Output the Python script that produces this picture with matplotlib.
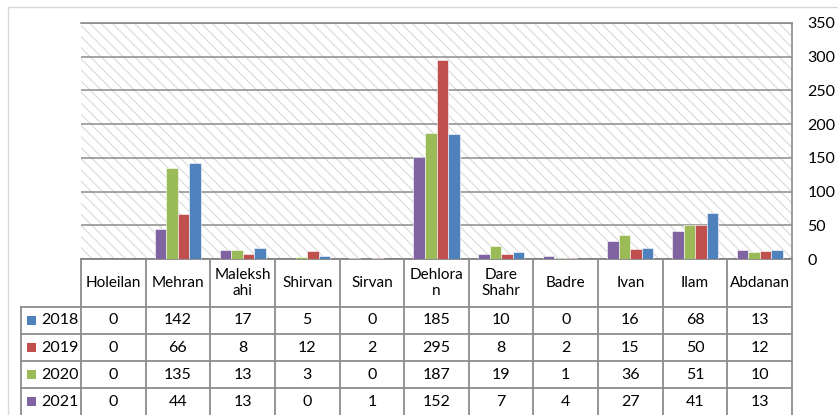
import matplotlib
matplotlib.use("Agg")
import matplotlib.pyplot as plt
from matplotlib.lines import Line2D
from matplotlib.patches import Rectangle
import numpy as np

plt.rcParams['font.family'] = ['Lato', 'DejaVu Sans']
plt.rcParams['hatch.linewidth'] = 0.8

districts = ["Holeilan", "Mehran", "Maleksh\nahi", "Shirvan", "Sirvan", "Dehlora\nn",
             "Dare\nShahr", "Badre", "Ivan", "Ilam", "Abdanan"]
years = ["2018", "2019", "2020", "2021"]
cases_2018 = [0, 142, 17, 5, 0, 185, 10, 0, 16, 68, 13]
cases_2019 = [0, 66, 8, 12, 2, 295, 8, 2, 15, 50, 12]
cases_2020 = [0, 135, 13, 3, 0, 187, 19, 1, 36, 51, 10]
cases_2021 = [0, 44, 13, 0, 1, 152, 7, 4, 27, 41, 13]
y_ticks = [0, 50, 100, 150, 200, 250, 300, 350]

series = {"2018": cases_2018, "2019": cases_2019, "2020": cases_2020, "2021": cases_2021}
colors = {"2018": "#4F81BD", "2019": "#C0504D", "2020": "#9BBB59", "2021": "#8064A2"}

W, H = 838, 415
fig = plt.figure(figsize=(W / 100, H / 100), dpi=100)

# plot area in pixel terms (from the top-left corner)
left, right, top, bottom = 81, 792, 23, 259
line_gray = "#8c8c8c"
fs = 11


def fig_rect(x0, y0, x1, y1):
    return [x0 / W, 1 - y1 / H, (x1 - x0) / W, (y1 - y0) / H]


ax = fig.add_axes(fig_rect(left, top, right, bottom))
n = len(districts)
x = np.arange(n)
bar_w = 0.178

ax.add_patch(Rectangle((0, 0), 1, 1, transform=ax.transAxes, facecolor="white",
                       edgecolor="#dadada", linewidth=0, hatch="\\\\\\", zorder=0))
ax.patch.set_visible(False)

for k, year in enumerate(["2021", "2020", "2019", "2018"]):
    ax.bar(x + (k - 1.5) * bar_w, series[year], width=bar_w, color=colors[year],
           edgecolor="white", linewidth=0.4, zorder=3)

ax.set_xlim(-0.5, n - 0.5)
ax.set_ylim(0, 350)
ax.set_yticks(y_ticks)
ax.yaxis.tick_right()
ax.tick_params(axis="y", length=0, pad=11, labelsize=fs + 0.5)
ax.set_xticks([])
ax.grid(axis="y", color=line_gray, linewidth=1.1, zorder=1)
ax.spines["left"].set_visible(False)
ax.spines["top"].set_color(line_gray)
ax.spines["right"].set_color(line_gray)
ax.spines["bottom"].set_color("#7a7a7a")
for side in ["top", "right", "bottom"]:
    ax.spines[side].set_linewidth(1.2)

# data table under the bars
col_w = (right - left) / n
tab_left = 21
row_edges = [307, 334, 361, 388, 415]


def add_line(xs, ys, color=line_gray, lw=1.3):
    fig.add_artist(Line2D([v / W for v in xs], [1 - v / H for v in ys],
                          color=color, linewidth=lw))


for i in range(n + 1):
    xv = left + i * col_w
    add_line([xv, xv], [bottom, H + 2])
add_line([tab_left, tab_left], [row_edges[0], H + 2])
for yv in row_edges[:-1]:
    add_line([tab_left, right], [yv, yv])

for i, name in enumerate(districts):
    cx = left + (i + 0.5) * col_w
    fig.text(cx / W, 1 - 283 / H, name, ha="center", va="center", fontsize=fs,
             linespacing=1.25)

for r, year in enumerate(years):
    cy = (row_edges[r] + row_edges[r + 1]) / 2
    fig.add_artist(Rectangle((27 / W, 1 - (cy + 4.5) / H), 9 / W, 9 / H,
                             facecolor=colors[year], edgecolor="none"))
    fig.text(41 / W, 1 - cy / H, year, ha="left", va="center", fontsize=fs + 0.5)
    for i, val in enumerate(series[year]):
        cx = left + (i + 0.5) * col_w
        fig.text(cx / W, 1 - cy / H, str(val), ha="center", va="center", fontsize=fs + 0.5)

# light chart-area border
add_line([8, 8], [7, H + 2], color="#d9d9d9", lw=1.0)
add_line([8, W + 2], [7, 7], color="#d9d9d9", lw=1.0)

fig.savefig("out.png", dpi=100)
